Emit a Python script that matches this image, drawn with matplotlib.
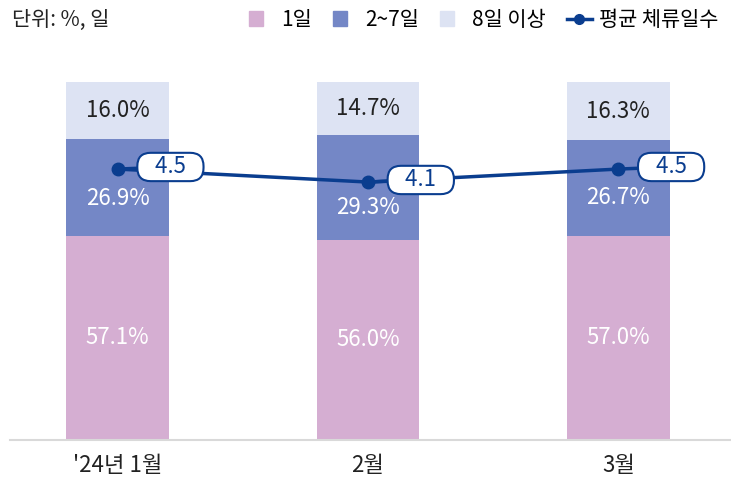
import numpy as np
import matplotlib.pyplot as plt
from matplotlib.lines import Line2D
from matplotlib.patches import Patch

plt.rcParams['font.family'] = ['Noto Sans CJK KR', 'DejaVu Sans']

months = ["'24년 1월", "2월", "3월"]
share_1d = [57.1, 56.0, 57.0]
share_2_7d = [26.9, 29.3, 26.7]
share_8d = [16.0, 14.7, 16.3]
avg_days = [4.5, 4.1, 4.5]

c_1d = "#D5AED2"
c_2_7d = "#7487C6"
c_8d = "#DDE3F3"
c_line = "#0A3D8F"

# where the middle-segment label sits inside its segment (kept clear of the line)
mid_pos = [0.39, 0.31, 0.40]

fig = plt.figure(figsize=(7.31, 4.82), dpi=100)
ax = fig.add_axes([10 / 731, 42 / 482, 721 / 731, 358 / 482])

x = np.arange(len(months))
w = 0.41
ax.bar(x, share_1d, w, color=c_1d)
ax.bar(x, share_2_7d, w, bottom=share_1d, color=c_2_7d)
bottom3 = np.array(share_1d) + np.array(share_2_7d)
ax.bar(x, share_8d, w, bottom=bottom3, color=c_8d)

for i in range(len(x)):
    ax.text(x[i], share_1d[i] / 2, f"{share_1d[i]:.1f}%", ha="center", va="center",
            color="white", fontsize=16)
    ax.text(x[i], share_1d[i] + share_2_7d[i] * mid_pos[i], f"{share_2_7d[i]:.1f}%",
            ha="center", va="center", color="white", fontsize=16)
    ax.text(x[i], bottom3[i] + share_8d[i] / 2, f"{share_8d[i]:.1f}%", ha="center",
            va="center", color="#222222", fontsize=16)

ax.set_xlim(-0.43, 2.45)
ax.set_ylim(0, 100)
ax.set_xticks(x)
ax.set_xticklabels(months, fontsize=16, color="#222222")
ax.tick_params(axis="x", length=0, pad=10)
ax.set_yticks([])
for s in ["top", "right", "left"]:
    ax.spines[s].set_visible(False)
ax.spines["bottom"].set_color("#D9D9D9")
ax.spines["bottom"].set_linewidth(1.5)

ax2 = ax.twinx()
ax2.set_ylim(-3.84, 7.18)
ax2.set_yticks([])
for s in ax2.spines.values():
    s.set_visible(False)
ax2.plot(x, avg_days, color=c_line, lw=2.5, marker="o", markersize=9, zorder=3)
for i in range(len(x)):
    ax2.annotate(f"   {avg_days[i]:.1f}   ", xy=(x[i], avg_days[i]), xytext=(38, 1.5),
                 textcoords="offset points", ha="center", va="center", fontsize=16,
                 color=c_line, zorder=4,
                 bbox=dict(boxstyle="round,pad=0.12,rounding_size=0.6", fc="white",
                           ec=c_line, lw=1.5),
                 arrowprops=dict(arrowstyle="-", color=c_line, lw=2.5, shrinkA=0, shrinkB=0))

fig.text(12 / 731, 1 - 20 / 482, "단위: %, 일", fontsize=15, va="center", ha="left",
         color="#222222")

handles = [Patch(color=c_1d), Patch(color=c_2_7d), Patch(color=c_8d),
           Line2D([0], [0], color=c_line, lw=2.5, marker="o", markersize=7)]
labels = ["1일", "2~7일", "8일 이상", "평균 체류일수"]
leg = fig.legend(handles, labels, loc="center right", bbox_to_anchor=(1.0, 1 - 20 / 482),
                 ncol=4, frameon=False, fontsize=15, handlelength=1.2, handletextpad=0.35,
                 columnspacing=1.0, borderaxespad=0.2)
for h in leg.legend_handles[:3]:
    h.set_width(10)

fig.savefig("out.png", dpi=100)
